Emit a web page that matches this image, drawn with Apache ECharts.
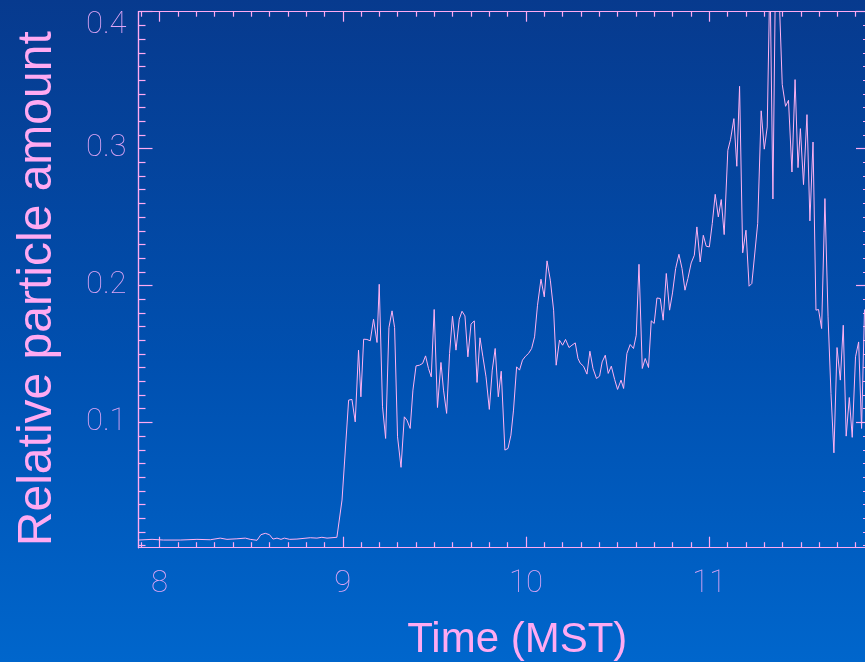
<!DOCTYPE html>
<html>
<head>
<meta charset="utf-8">
<script src="https://cdn.jsdelivr.net/npm/echarts@6/dist/echarts.min.js"></script>
<style>
  html, body { margin: 0; padding: 0; }
  body { width: 865px; height: 662px; overflow: hidden;
         background: linear-gradient(to bottom, #073a8e 0%, #0050b0 55%, #0066cc 100%); }
  #chart { width: 865px; height: 662px; }
</style>
</head>
<body>
<div id="chart"></div>
<script>
// ---- data (hours MST, relative particle amount) ----
const times = [
  7.885, 7.959, 8.022, 8.113, 8.204, 8.277, 8.331, 8.368, 8.422, 8.468, 8.495, 8.532, 8.553,
  8.577, 8.600, 8.619, 8.641, 8.663, 8.681, 8.710, 8.750, 8.823, 8.859, 8.886, 8.914, 8.968,
  8.996, 9.032, 9.050, 9.068, 9.086, 9.099, 9.114, 9.132, 9.150, 9.168, 9.187, 9.199, 9.217,
  9.234, 9.252, 9.269, 9.283, 9.299, 9.318, 9.336, 9.350, 9.368, 9.383, 9.400, 9.419, 9.436,
  9.452, 9.468, 9.483, 9.499, 9.517, 9.536, 9.550, 9.567, 9.583, 9.599, 9.618, 9.636, 9.651,
  9.667, 9.683, 9.700, 9.718, 9.733, 9.749, 9.765, 9.782, 9.800, 9.816, 9.832, 9.849, 9.865,
  9.885, 9.902, 9.918, 9.932, 9.949, 9.965, 9.981, 9.998, 10.014, 10.031, 10.047, 10.063,
  10.082, 10.100, 10.115, 10.133, 10.151, 10.165, 10.183, 10.200, 10.216, 10.235, 10.251,
  10.269, 10.284, 10.296, 10.314, 10.333, 10.349, 10.366, 10.385, 10.402, 10.416, 10.433,
  10.449, 10.466, 10.484, 10.500, 10.519, 10.533, 10.551, 10.569, 10.587, 10.602, 10.617,
  10.635, 10.651, 10.669, 10.684, 10.700, 10.715, 10.733, 10.749, 10.766, 10.784, 10.800,
  10.817, 10.835, 10.852, 10.868, 10.884, 10.902, 10.919, 10.933, 10.951, 10.968, 10.984,
  11.001, 11.017, 11.033, 11.050, 11.066, 11.082, 11.102, 11.117, 11.135, 11.151, 11.166,
  11.183, 11.201, 11.218, 11.233, 11.265, 11.284, 11.301, 11.317, 11.332, 11.348, 11.364,
  11.380, 11.399, 11.417, 11.433, 11.452, 11.469, 11.485, 11.498, 11.515, 11.534, 11.550,
  11.567, 11.583, 11.597, 11.614, 11.632, 11.649, 11.665, 11.681, 11.698, 11.716, 11.732,
  11.748, 11.765, 11.781, 11.799, 11.816, 11.832, 11.848
];
const amounts = [
  0.0141, 0.0146, 0.0141, 0.0141, 0.0146, 0.0143, 0.0155, 0.0146, 0.0150, 0.0155, 0.0146, 0.0139, 0.0180,
  0.0190, 0.0180, 0.0148, 0.0155, 0.0146, 0.0155, 0.0146, 0.0148, 0.0158, 0.0155, 0.0161, 0.0155, 0.0161,
  0.0433, 0.1163, 0.1168, 0.1004, 0.1528, 0.1187, 0.1608, 0.1606, 0.1596, 0.1754, 0.1584, 0.2009, 0.1114,
  0.0883, 0.1693, 0.1815, 0.1693, 0.0895, 0.0672, 0.1041, 0.1017, 0.0956, 0.1236, 0.1413, 0.1418, 0.1431,
  0.1486, 0.1394, 0.1333, 0.1825, 0.1109, 0.1438, 0.1236, 0.1066, 0.1504, 0.1776, 0.1528, 0.1754, 0.1812,
  0.1778, 0.1479, 0.1718, 0.1742, 0.1292, 0.1618, 0.1479, 0.1333, 0.1095, 0.1382, 0.1540, 0.1187, 0.1374,
  0.0798, 0.0810, 0.0907, 0.1090, 0.1406, 0.1382, 0.1455, 0.1484, 0.1504, 0.1540, 0.1625, 0.1856,
  0.2046, 0.1917, 0.2180, 0.2039, 0.1820, 0.1418, 0.1601, 0.1564, 0.1606, 0.1547, 0.1564,
  0.1581, 0.1467, 0.1433, 0.1411, 0.1353, 0.1520, 0.1394, 0.1321, 0.1338, 0.1442, 0.1491,
  0.1358, 0.1411, 0.1314, 0.1241, 0.1309, 0.1248, 0.1504, 0.1569, 0.1540, 0.1637, 0.2155,
  0.1394, 0.1467, 0.1401, 0.1742, 0.1723, 0.1909, 0.1905, 0.1747, 0.2088, 0.1820, 0.1946,
  0.2124, 0.2228, 0.2124, 0.1966, 0.2051, 0.2165, 0.2221, 0.2428, 0.2172, 0.2367, 0.2287,
  0.2282, 0.2453, 0.2666, 0.2501, 0.2628, 0.2372, 0.2988, 0.3068, 0.3219, 0.2871, 0.3455,
  0.2239, 0.2404, 0.1995, 0.2015, 0.2453, 0.3276, 0.2996, 0.3158, 0.4300, 0.2632, 0.4500,
  0.4200, 0.3469, 0.3309, 0.3353, 0.2829, 0.3504, 0.2861, 0.3146, 0.2737, 0.3248, 0.2472,
  0.3048, 0.1820, 0.1825, 0.1686, 0.2635, 0.1771, 0.1212, 0.0778, 0.1547, 0.1309, 0.1710,
  0.0900, 0.1182, 0.0891, 0.1479, 0.1588, 0.0956, 0.1825
];
const xMajorTicks = [8, 9, 10, 11];
const yMajorTicks = [0.1, 0.2, 0.3, 0.4];
const xRange = [7.885, 11.878];
const yRange = [0.0085, 0.4];

// minor tick positions (every 0.1 h, every 0.01)
const xMinorTicks = [];
for (let k = 79; k <= 118; k++) if (k % 10 !== 0) xMinorTicks.push(k / 10);
const yMinorTicks = [];
for (let k = 1; k <= 39; k++) if (k % 10 !== 0) yMinorTicks.push(k / 100);

const PINK = '#ffaaf2';
const LABEL = '#e0a6f6';
const data = times.map((t, i) => [t, amounts[i]]);

function xAx(pos, ticks, len, withLabels) {
  return {
    type: 'value', position: pos, min: xRange[0], max: xRange[1],
    axisLine: { show: true, onZero: false, lineStyle: { color: PINK, width: 1.2 } },
    axisTick: { show: true, inside: true, length: len, customValues: ticks, lineStyle: { color: PINK, width: 1.2 } },
    axisLabel: withLabels ? {
      show: true, customValues: xMajorTicks, margin: 21, color: LABEL,
      fontFamily: 'Roboto', fontWeight: 100, fontSize: 31
    } : { show: false },
    splitLine: { show: false }
  };
}
function yAx(pos, ticks, len, withLabels) {
  return {
    type: 'value', position: pos, min: yRange[0], max: yRange[1],
    axisLine: { show: true, onZero: false, lineStyle: { color: PINK, width: 1.2 } },
    axisTick: { show: true, inside: true, length: len, customValues: ticks, lineStyle: { color: PINK, width: 1.2 } },
    axisLabel: withLabels ? {
      show: true, customValues: yMajorTicks, margin: 12, color: LABEL,
      fontFamily: 'Roboto', fontWeight: 100, fontSize: 31,
      formatter: v => (Math.abs(v - 0.4) < 1e-9 ? '{top|' + v.toFixed(1) + '}' : v.toFixed(1)),
      rich: { top: { padding: [28, 0, 0, 0], color: LABEL, fontFamily: 'Roboto', fontWeight: 100, fontSize: 31 } }
    } : { show: false },
    splitLine: { show: false }
  };
}

const xAxes = [
  xAx('bottom', xMajorTicks, 11, true),
  xAx('bottom', xMinorTicks, 5.5, false),
  xAx('top', xMajorTicks, 10, false),
  xAx('top', xMinorTicks, 5, false)
];
Object.assign(xAxes[0], {
  name: 'Time (MST)', nameLocation: 'middle', nameGap: 72,
  nameTextStyle: { color: PINK, fontFamily: 'Liberation Sans', fontSize: 42, padding: [0, 0, 0, 26] }
});
const yAxes = [
  yAx('left', yMajorTicks, 14, true),
  yAx('left', yMinorTicks, 7, false),
  yAx('right', yMajorTicks, 14, false),
  yAx('right', yMinorTicks, 7, false)
];
Object.assign(yAxes[0], {
  name: 'Relative particle amount', nameLocation: 'middle', nameGap: 77, nameRotate: 90,
  nameTextStyle: { color: PINK, fontFamily: 'Liberation Sans', fontSize: 48, padding: [0, 18, 0, 0] }
});

const chart = echarts.init(document.getElementById('chart'), null, { renderer: 'canvas' });
chart.setOption({
  backgroundColor: 'transparent',
  animation: false,
  grid: { left: 138.5, width: 731.5, top: 11.7, height: 536, containLabel: false, outerBoundsMode: 'none' },
  xAxis: xAxes,
  yAxis: yAxes,
  series: [{
    type: 'line', xAxisIndex: 0, yAxisIndex: 0, data: data,
    showSymbol: false, symbol: 'none', clip: true,
    lineStyle: { color: '#ffb2f2', width: 1 }
  }]
});
</script>
</body>
</html>
